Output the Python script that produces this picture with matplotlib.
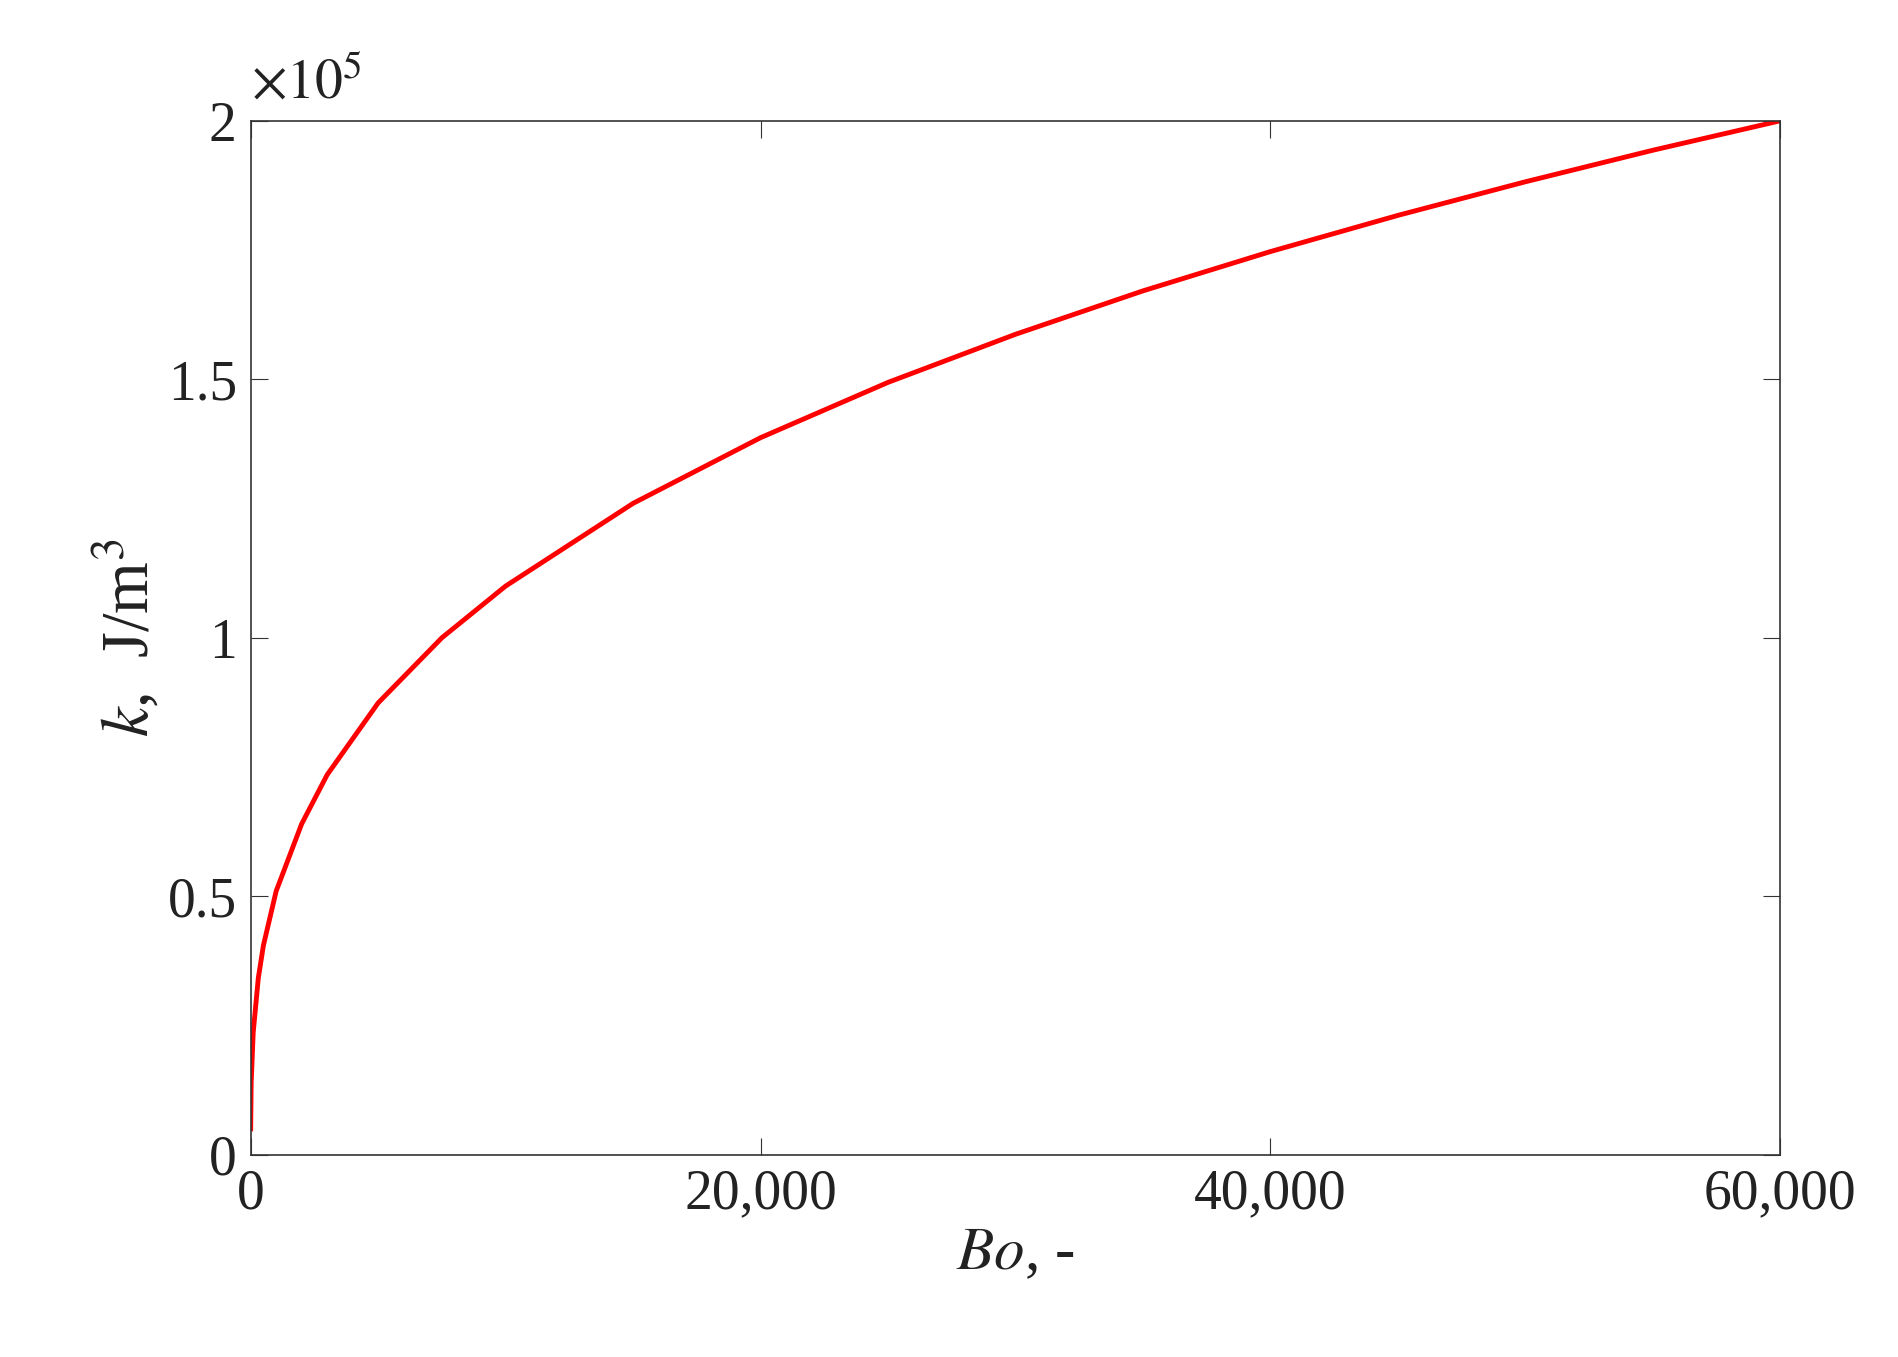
import matplotlib
matplotlib.use("Agg")
import matplotlib.pyplot as plt
from matplotlib.ticker import FuncFormatter

bo = [0, 20, 100, 300, 500, 1000, 2000, 3000, 5000, 7500, 10000, 15000, 20000,
      25000, 30000, 35000, 40000, 45000, 50000, 55000, 60000]
k = [0.05, 0.14, 0.237, 0.342, 0.405, 0.51, 0.64, 0.735, 0.874, 1.0, 1.10, 1.26,
     1.387, 1.494, 1.587, 1.671, 1.747, 1.817, 1.882, 1.943, 2.0]

plt.rcParams['font.family'] = ['Liberation Serif', 'DejaVu Serif']
plt.rcParams['mathtext.fontset'] = 'stix'
fig = plt.figure(figsize=(18.99, 13.57), dpi=100)
ax = fig.add_axes([0.132, 0.149, 0.8055, 0.762])
ax.plot(bo, k, color='#ff0000', lw=3.5)
ax.set_xlim(0, 60000)
ax.set_ylim(0, 2)
ax.set_xticks([0, 20000, 40000, 60000])
ax.set_yticks([0, 0.5, 1, 1.5, 2])
ax.xaxis.set_major_formatter(FuncFormatter(lambda v, p: f"{int(v):,}"))
ax.yaxis.set_major_formatter(FuncFormatter(lambda v, p: f"{v:g}"))
ax.tick_params(labelsize=40, direction='in', length=12, color='#333333',
               top=True, right=True, pad=10, labelcolor='#222222')
for s in ax.spines.values():
    s.set_color('#333333'); s.set_linewidth(1.2)
ax.set_xlabel(r"$\it{Bo}$, -", fontsize=44, color='#222222')
ax.set_ylabel(r"$\it{k}$,  J/m$^3$", fontsize=48, color='#222222')
ax.text(0.0, 1.01, r"$\times10^5$", transform=ax.transAxes, fontsize=40,
        ha='left', va='bottom', color='#222222')
fig.savefig("out.png", dpi=100)
